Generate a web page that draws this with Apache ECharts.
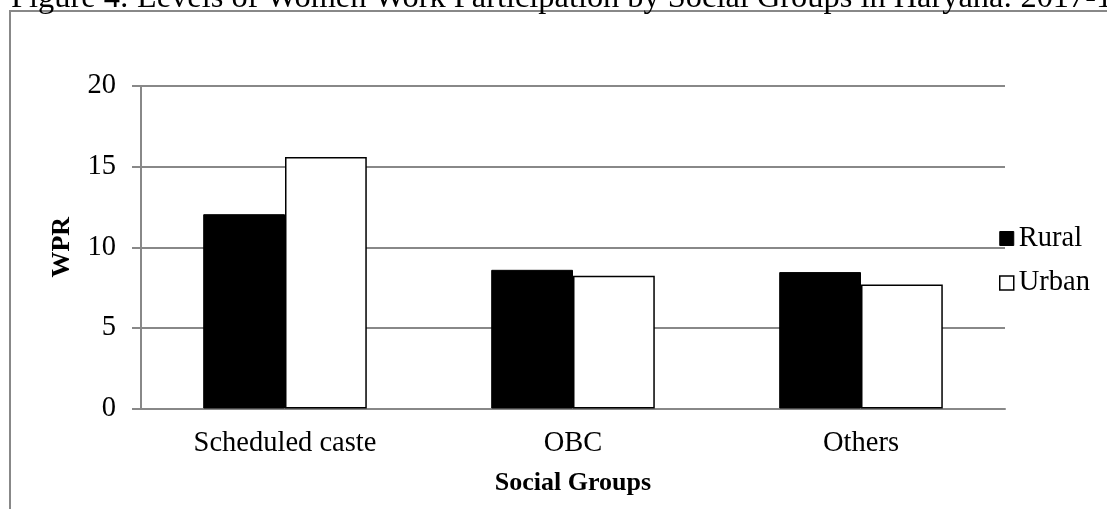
<!DOCTYPE html>
<html>
<head>
<meta charset="utf-8">
<style>
  html, body { margin: 0; padding: 0; background: #fff; }
  #chart { width: 1107px; height: 509px; }
</style>
<script src="https://cdn.jsdelivr.net/npm/echarts@6/dist/echarts.min.js"></script>
</head>
<body>
<div id="chart"></div>
<script>
// Women work participation rate (WPR) by social group, Haryana 2017-18
const categories = ['Scheduled caste', 'OBC', 'Others'];
const ruralWPR = [12.05, 8.6, 8.46];
const urbanWPR = [15.6, 8.23, 7.69];
const seriesNames = ['Rural', 'Urban'];
const yTicks = { min: 0, max: 20, interval: 5 };

const FONT = "'Liberation Serif', 'Times New Roman', serif";
const GRAY = '#888888';

const chart = echarts.init(document.getElementById('chart'), null, { renderer: 'canvas' });

chart.setOption({
  backgroundColor: '#ffffff',
  animation: false,
  textStyle: { fontFamily: FONT, color: '#000' },
  graphic: [
    {
      type: 'rect',
      shape: { x: 10, y: 11, width: 1300, height: 700 },
      style: { fill: 'none', stroke: GRAY, lineWidth: 2 },
      silent: true,
      z: -1
    },
    {
      type: 'text',
      x: 11,
      y: -1.6,
      style: {
        text: 'Figure 4: Levels of Women Work Participation by Social Groups in Haryana: 2017-18',
        font: "32.4px 'Liberation Serif', 'Times New Roman', serif",
        fill: '#000',
        textVerticalAlign: 'middle'
      },
      silent: true
    }
  ],
  grid: { left: 141, right: 102, top: 86, bottom: 100.5, containLabel: false },
  legend: {
    orient: 'vertical',
    left: 999,
    top: 224,
    padding: 0,
    itemWidth: 14,
    itemHeight: 14,
    itemGap: 15.5,
    icon: 'rect',
    textStyle: { fontFamily: FONT, fontSize: 28.5, color: '#000' },
    data: [
      { name: seriesNames[0], itemStyle: { color: '#000', borderColor: '#000', borderWidth: 1 } },
      { name: seriesNames[1], itemStyle: { color: '#fff', borderColor: '#000', borderWidth: 1.5 } }
    ]
  },
  xAxis: {
    type: 'category',
    data: categories,
    name: 'Social Groups',
    nameLocation: 'middle',
    nameGap: 62,
    nameTextStyle: { fontFamily: FONT, fontSize: 26, fontWeight: 'bold', color: '#000' },
    axisLine: { show: true, lineStyle: { color: GRAY, width: 2 } },
    axisTick: { show: false },
    axisLabel: { fontFamily: FONT, fontSize: 28.5, color: '#000', margin: 21 },
    splitLine: { show: false }
  },
  yAxis: {
    type: 'value',
    min: yTicks.min,
    max: yTicks.max,
    interval: yTicks.interval,
    name: 'WPR',
    nameLocation: 'middle',
    nameGap: 66,
    nameRotate: 90,
    nameTextStyle: { fontFamily: FONT, fontSize: 26, fontWeight: 'bold', color: '#000' },
    axisLine: { show: true, lineStyle: { color: GRAY, width: 2 } },
    axisTick: { show: true, inside: false, length: 9, lineStyle: { color: GRAY, width: 2 } },
    axisLabel: { fontFamily: FONT, fontSize: 28.5, color: '#000', margin: 25 },
    splitLine: { show: true, lineStyle: { color: GRAY, width: 2 } }
  },
  series: [
    {
      name: seriesNames[0],
      type: 'bar',
      data: ruralWPR,
      barGap: '0%',
      barCategoryGap: '43.2%',
      itemStyle: { color: '#000', borderColor: '#000', borderWidth: 1 }
    },
    {
      name: seriesNames[1],
      type: 'bar',
      data: urbanWPR,
      barGap: '0%',
      barCategoryGap: '43.2%',
      itemStyle: { color: '#fff', borderColor: '#000', borderWidth: 1.5 }
    }
  ]
});
</script>
</body>
</html>
